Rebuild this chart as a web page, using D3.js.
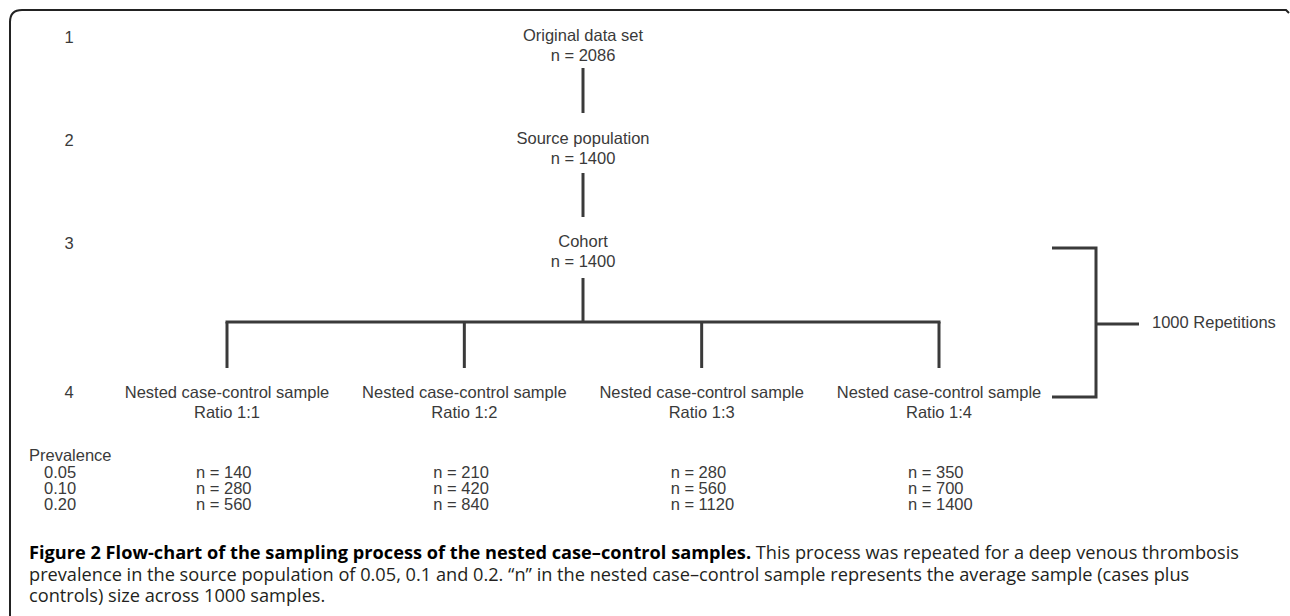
<!DOCTYPE html>
<html>
<head>
<meta charset="utf-8">
<script src="https://cdn.jsdelivr.net/npm/d3@7"></script>
<style>
  html, body { margin: 0; padding: 0; background: #fff; }
  svg { display: block; }
</style>
</head>
<body>
<svg id="chart" width="1290" height="616"></svg>
<script>
// ── Data ──────────────────────────────────────────────────────────────────────
const levels      = ["1", "2", "3", "4"];
const stageNames  = ["Original data set", "Source population", "Cohort"];
const stageN      = [2086, 1400, 1400];
const ratios      = ["1:1", "1:2", "1:3", "1:4"];
const prevalences = ["0.05", "0.10", "0.20"];
// rows = prevalence, columns = ratio
const sampleSizes = [
  [140, 210, 280, 350],
  [280, 420, 560, 700],
  [560, 840, 1120, 1400],
];
const repetitions = 1000;
const captionBold = "Figure 2 Flow-chart of the sampling process of the nested case\u2013control samples.";
const captionLines = [
  " This process was repeated for a deep venous thrombosis",
  "prevalence in the source population of 0.05, 0.1 and 0.2. \u201cn\u201d in the nested case\u2013control sample represents the average sample (cases plus",
  "controls) size across 1000 samples.",
];

// ── Setup ─────────────────────────────────────────────────────────────────────
const svg = d3.select("#chart");
const INK = "#3a3a3a";
const FONT = "'Liberation Sans', Arial, Helvetica, sans-serif";
const FS = 16.5;

const x = d3.scalePoint().domain(ratios).range([227, 939]);
const centerX = (x.range()[0] + x.range()[1]) / 2;
const y = d3.scaleOrdinal().domain(levels).range([37, 140, 243, 392]);
const rowY = d3.scalePoint().domain(prevalences).range([472, 504]);

// frame (rounded top-left corner, open bottom/right)
svg.append("path")
  .attr("d", "M10,616 V22 Q10,10 22,10 H1286 L1289,13")
  .attr("fill", "none")
  .attr("stroke", "#222")
  .attr("stroke-width", 2);

const label = (sel) => sel
  .attr("font-family", FONT)
  .attr("font-size", FS)
  .attr("fill", INK)
  .attr("dominant-baseline", "central");

// level numbers
svg.selectAll(".lvl").data(levels).enter().append("text")
  .attr("class", "lvl")
  .attr("x", 69).attr("y", d => y(d))
  .attr("text-anchor", "middle")
  .text(d => d)
  .call(label);

// stage nodes
const stages = stageNames.map((name, i) => ({ name, n: stageN[i], lvl: levels[i] }));
const stageG = svg.selectAll(".stage").data(stages).enter().append("g")
  .attr("class", "stage")
  .attr("transform", d => `translate(${centerX},${y(d.lvl) - 2})`);
stageG.append("text").attr("text-anchor", "middle").text(d => d.name).call(label);
stageG.append("text").attr("y", 20).attr("text-anchor", "middle").text(d => `n = ${d.n}`).call(label);

const line = (x1, y1, x2, y2) => svg.append("line")
  .attr("x1", x1).attr("y1", y1).attr("x2", x2).attr("y2", y2)
  .attr("stroke", INK).attr("stroke-width", 3);

// vertical connectors between stages
const barY = 322;
line(centerX, y("1") + 31, centerX, y("2") - 27);
line(centerX, y("2") + 33, centerX, y("3") - 26);
line(centerX, y("3") + 35, centerX, barY);

// horizontal split + drops
line(x(ratios[0]) - 1.5, barY, x(ratios[3]) + 1.5, barY);
ratios.forEach(r => line(x(r), barY, x(r), y("4") - 24));

// sample nodes
const sampleG = svg.selectAll(".sample").data(ratios).enter().append("g")
  .attr("class", "sample")
  .attr("transform", d => `translate(${x(d)},${y("4")})`);
sampleG.append("text").attr("text-anchor", "middle").text("Nested case-control sample").call(label);
sampleG.append("text").attr("y", 20).attr("text-anchor", "middle").text(d => `Ratio ${d}`).call(label);

// repetition bracket
const bx0 = 1052, bx1 = 1096, by0 = 248, by1 = 397;
svg.append("path")
  .attr("d", `M${bx0},${by0} H${bx1} V${by1} H${bx0}`)
  .attr("fill", "none").attr("stroke", INK).attr("stroke-width", 3);
line(bx1, barY + 2, 1139, barY + 2);
svg.append("text").attr("x", 1152).attr("y", barY)
  .text(`${repetitions} Repetitions`).call(label);

// prevalence table
svg.append("text").attr("x", 29).attr("y", 455).text("Prevalence").call(label);
svg.selectAll(".prev").data(prevalences).enter().append("text")
  .attr("class", "prev")
  .attr("x", 44).attr("y", d => rowY(d))
  .text(d => d).call(label);

const ratioLeft = {};
sampleG.selectAll("text").filter((d, i) => i === 1).each(function (d) {
  ratioLeft[d] = x(d) - this.getComputedTextLength() / 2;
});

prevalences.forEach((p, ri) => {
  svg.selectAll(null).data(ratios).enter().append("text")
    .attr("x", d => ratioLeft[d] + 2)
    .attr("y", rowY(p))
    .text((d, ci) => `n = ${sampleSizes[ri][ci]}`)
    .call(label);
});

// caption
const CAP_FONT = "'Open Sans', 'Noto Sans', sans-serif";
const capX = 29, capY0 = 552, capStep = 21.5;
const probe = svg.append("text").attr("font-family", CAP_FONT).attr("font-size", 16).text(captionLines[1]);
const capFS = 16 * 1161 / probe.node().getComputedTextLength();
probe.remove();

const cap = svg.append("g").attr("font-family", CAP_FONT).attr("font-size", capFS)
  .attr("fill", "#231f20");
const first = cap.append("text").attr("x", capX).attr("y", capY0).attr("dominant-baseline", "central");
first.append("tspan").attr("font-weight", "bold").attr("fill", "#000").text(captionBold);
first.append("tspan").text(captionLines[0]);
captionLines.slice(1).forEach((t, i) => {
  cap.append("text").attr("x", capX).attr("y", capY0 + capStep * (i + 1))
    .attr("dominant-baseline", "central").text(t);
});
</script>
</body>
</html>
